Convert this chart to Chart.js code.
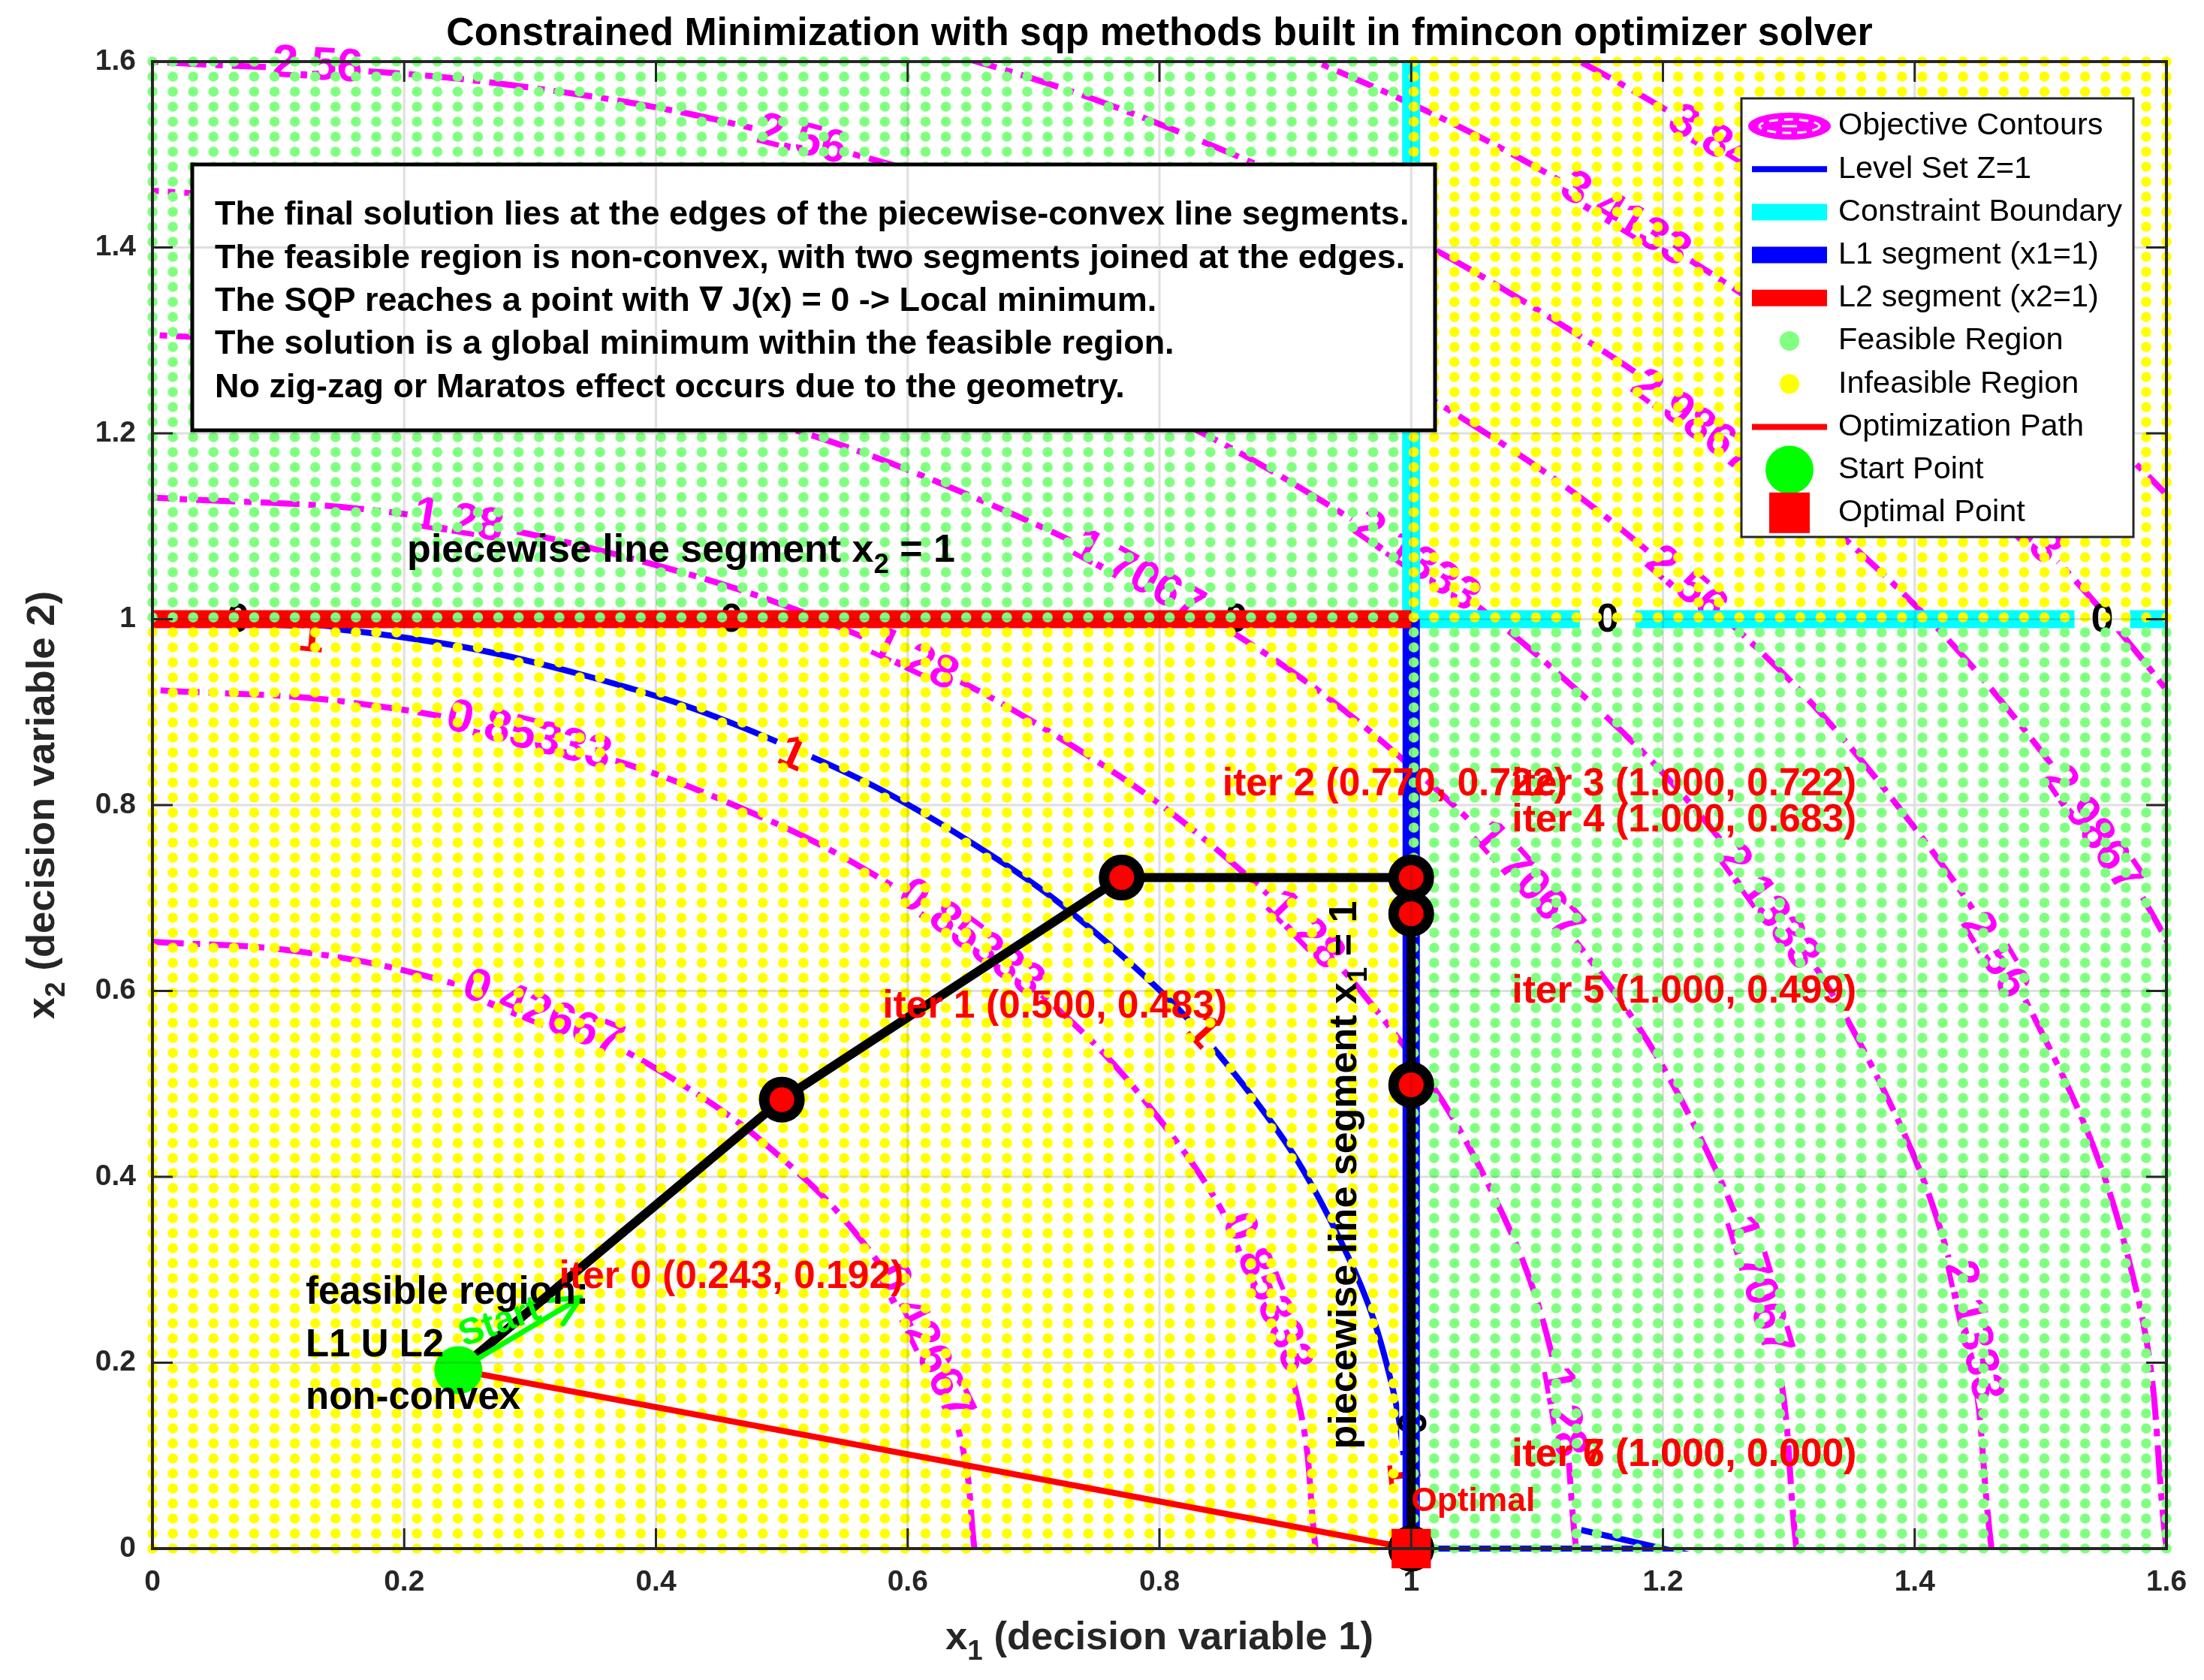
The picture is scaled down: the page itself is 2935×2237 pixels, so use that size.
<!DOCTYPE html>
<html>
<head>
<meta charset="utf-8">
<title>Constrained Minimization with sqp</title>
<script src="https://cdn.jsdelivr.net/npm/chart.js@4.4.1/dist/chart.umd.min.js"></script>
<style>
  html, body { margin: 0; padding: 0; background: #ffffff; overflow: hidden; }
  #chartCanvas { display: block; }
</style>
</head>
<body>
<canvas id="chartCanvas" width="2935" height="2237"></canvas>
<script>
// axis ticks
const tickValues = [0, 0.2, 0.4, 0.6, 0.8, 1, 1.2, 1.4, 1.6];
const tickLabels = ['0', '0.2', '0.4', '0.6', '0.8', '1', '1.2', '1.4', '1.6'];

// objective contours, points (x1, x2)
const contourLevels = [0.42667, 0.85333, 1.28, 1.7067, 2.1333, 2.56, 2.9867, 3.4133, 3.84];
const contour042667 = [[0.653, 0], [0.643, 0.113], [0.614, 0.223], [0.566, 0.327], [0.500, 0.420], [0.420, 0.500], [0.327, 0.566], [0.223, 0.614], [0.113, 0.643], [0, 0.653]];
const contour085333 = [[0.924, 0], [0.910, 0.160], [0.868, 0.316], [0.800, 0.462], [0.708, 0.594], [0.594, 0.708], [0.462, 0.800], [0.316, 0.868], [0.160, 0.910], [0, 0.924]];
const contour128 = [[1.131, 0], [1.114, 0.196], [1.063, 0.387], [0.980, 0.566], [0.867, 0.727], [0.727, 0.867], [0.566, 0.980], [0.387, 1.063], [0.196, 1.114], [0, 1.131]];
const contour17067 = [[1.306, 0], [1.287, 0.227], [1.228, 0.447], [1.131, 0.653], [1.001, 0.840], [0.840, 1.001], [0.653, 1.131], [0.447, 1.228], [0.227, 1.287], [0, 1.306]];
const contour21333 = [[1.461, 0], [1.438, 0.254], [1.373, 0.500], [1.265, 0.730], [1.119, 0.939], [0.939, 1.119], [0.730, 1.265], [0.500, 1.373], [0.254, 1.438], [0, 1.461]];
const contour256 = [[1.600, 0], [1.576, 0.278], [1.504, 0.547], [1.386, 0.800], [1.226, 1.029], [1.029, 1.226], [0.800, 1.386], [0.547, 1.504], [0.278, 1.576], [0, 1.600]];
const contour29867 = [[1.728, 0], [1.702, 0.300], [1.624, 0.591], [1.497, 0.864], [1.324, 1.111], [1.111, 1.324], [0.864, 1.497], [0.591, 1.624], [0.300, 1.702], [0, 1.728]];
const contour34133 = [[1.848, 0], [1.819, 0.321], [1.736, 0.632], [1.600, 0.924], [1.415, 1.188], [1.188, 1.415], [0.924, 1.600], [0.632, 1.736], [0.321, 1.819], [0, 1.848]];
const contour384 = [[1.960, 0], [1.930, 0.340], [1.841, 0.670], [1.697, 0.980], [1.501, 1.260], [1.260, 1.501], [0.980, 1.697], [0.670, 1.841], [0.340, 1.930], [0, 1.960]];
const contourLines = [contour042667, contour085333, contour128, contour17067, contour21333, contour256, contour29867, contour34133, contour384];

// level set Z = 1
const levelSetArc = [[1, 0], [0.985, 0.174], [0.940, 0.342], [0.866, 0.500], [0.766, 0.643], [0.643, 0.766], [0.500, 0.866], [0.342, 0.940], [0.174, 0.985], [0, 1]];
const levelSetFoot = [[1.0, 0], [1.2, 0], [1.135, 0.02]];

// constraint pieces
const l1X = [1, 1];
const l1Y = [0, 1];
const l2X = [0, 1];
const l2Y = [1, 1];
const boundaryX = [1, 1, 1.6];
const boundaryY = [1.6, 1, 1];

// sqp iterates
const iterX = [0.243, 0.500, 0.770, 1.000, 1.000, 1.000, 1.000, 1.000];
const iterY = [0.192, 0.483, 0.722, 0.722, 0.683, 0.499, 0.000, 0.000];
const startX = [0.243];
const startY = [0.192];
const optimalX = [1.0];
const optimalY = [0.0];
const startArrowX = [0.243, 0.340];
const startArrowY = [0.192, 0.270];

// feasibility grid: samples per axis and the four quadrants
const gridCount = 100;
const regionX0 = [0, 1, 0, 1];
const regionX1 = [1, 1.6, 1, 1.6];
const regionY0 = [1, 0, 0, 1];
const regionY1 = [1.6, 1, 1, 1.6];
const regionFeasible = [true, true, false, false];

// inline labels on the curves: [text, x1, x2]
const contourLabels = [
  ['2.56', 0.131, 1.595], ['2.56', 0.516, 1.515], ['3.84', 1.238, 1.516], ['3.4133', 1.17, 1.43],
  ['2.9867', 1.224, 1.212], ['2.1333', 1.004, 1.062], ['2.56', 1.218, 1.037], ['3.4133', 1.47, 1.12],
  ['1.28', 0.243, 1.105], ['1.7067', 0.783, 1.046], ['1.28', 0.605, 0.956], ['0.85333', 0.299, 0.874],
  ['0.85333', 0.65, 0.656], ['1.28', 0.915, 0.665], ['0.42667', 0.31, 0.575], ['0.42667', 0.613, 0.222],
  ['0.85333', 0.885, 0.275], ['1.28', 1.12, 0.147], ['1.7067', 1.275, 0.283], ['2.1333', 1.446, 0.234],
  ['2.1333', 1.283, 0.69], ['1.7067', 1.092, 0.718], ['2.56', 1.463, 0.638], ['2.9867', 1.541, 0.774]
];
const levelLabels = [['1', 0.508, 0.854], ['1', 0.834, 0.555], ['1', 0.126, 0.979], ['1', 0.992, 0.08]];
const boundaryLabels = [['0', 0.068, 1], ['0', 0.46, 1], ['0', 0.861, 1], ['0', 1.156, 1], ['0', 1.549, 1], ['0', 1, 0.135]];

const legendLabels = ['Objective Contours', 'Level Set Z=1', 'Constraint Boundary', 'L1 segment (x1=1)',
  'L2 segment (x2=1)', 'Feasible Region', 'Infeasible Region', 'Optimization Path', 'Start Point', 'Optimal Point'];
const boxLines = [
  'The final solution lies at the edges of the piecewise-convex line segments.',
  'The feasible region is non-convex, with two segments joined at the edges.',
  'The SQP reaches a point with \u2207 J(x) = 0 -> Local minimum.',
  'The solution is a global minimum within the feasible region.',
  'No zig-zag or Maratos effect occurs due to the geometry.'
];
const regionNote = ['feasible region:', 'L1 U L2', 'non-convex'];
const titleText = 'Constrained Minimization with sqp methods built in fmincon optimizer solver';

const FONT = '"Liberation Sans", Arial, "DejaVu Sans", sans-serif';

function setFont(ctx, weight, size) {
  ctx.font = weight + ' ' + size + 'px ' + FONT;
}

function fitSize(ctx, text, weight, width) {
  setFont(ctx, weight, 100);
  return 100 * width / ctx.measureText(text).width;
}

// parts: [[text, isSubscript], ...]
function richWidth(ctx, parts, weight, size) {
  let w = 0;
  parts.forEach(([t, sub]) => {
    setFont(ctx, weight, sub ? size * 0.7 : size);
    w += ctx.measureText(t).width;
  });
  return w;
}

function drawRich(ctx, parts, x, y, weight, size, color) {
  const w = richWidth(ctx, parts, weight, size);
  let cx = x - w / 2;
  ctx.fillStyle = color;
  ctx.textAlign = 'left';
  ctx.textBaseline = 'middle';
  parts.forEach(([t, sub]) => {
    setFont(ctx, weight, sub ? size * 0.7 : size);
    ctx.fillText(t, cx, sub ? y + size * 0.36 : y);
    cx += ctx.measureText(t).width;
  });
}

function pts(xs, ys) {
  return xs.map((x, i) => ({ x: x, y: ys[i] }));
}

function pairs(list) {
  return list.map(p => ({ x: p[0], y: p[1] }));
}

function tangentAngle(chart, x, y) {
  const sx = chart.scales.x, sy = chart.scales.y;
  const kx = sx.getPixelForValue(1) - sx.getPixelForValue(0);
  const ky = sy.getPixelForValue(0) - sy.getPixelForValue(1);
  return Math.atan2(x * ky, y * kx);
}

// label placed in a gap cut out of the curve below it
function gapLabel(ctx, text, px, py, angle, color) {
  const w = ctx.measureText(text).width;
  ctx.save();
  ctx.translate(px, py);
  ctx.rotate(angle);
  ctx.fillStyle = '#ffffff';
  ctx.fillRect(-w / 2 - 8, -15, w + 16, 30);
  ctx.fillStyle = color;
  ctx.fillText(text, 0, 0);
  ctx.restore();
}

function drawContourLabels(chart) {
  const { ctx, scales: { x: sx, y: sy } } = chart;
  ctx.save();
  ctx.textAlign = 'center';
  ctx.textBaseline = 'middle';
  setFont(ctx, 'bold', 62);
  contourLabels.forEach(([t, x, y]) => {
    gapLabel(ctx, t, sx.getPixelForValue(x), sy.getPixelForValue(y), tangentAngle(chart, x, y), '#ff00ff');
  });
  ctx.restore();
}

function drawLevelLabels(chart) {
  const { ctx, scales: { x: sx, y: sy } } = chart;
  ctx.save();
  ctx.textAlign = 'center';
  ctx.textBaseline = 'middle';
  setFont(ctx, 'bold', 62);
  levelLabels.forEach(([t, x, y]) => {
    gapLabel(ctx, t, sx.getPixelForValue(x), sy.getPixelForValue(y), tangentAngle(chart, x, y), '#ff0000');
  });
  ctx.restore();
}

function drawBoundaryLabels(chart) {
  const { ctx, scales: { x: sx, y: sy } } = chart;
  ctx.save();
  ctx.textAlign = 'center';
  ctx.textBaseline = 'middle';
  setFont(ctx, 'bold', 54);
  boundaryLabels.forEach(([t, x, y]) => {
    const w = 74;
    const px = sx.getPixelForValue(x), py = sy.getPixelForValue(y);
    ctx.save();
    ctx.translate(px, py);
    if (x === 1) ctx.rotate(Math.PI / 2);
    ctx.fillStyle = '#ffffff';
    ctx.fillRect(-w / 2, -16, w, 32);
    ctx.fillStyle = '#000000';
    ctx.fillText(t, 0, 2);
    ctx.restore();
  });
  ctx.restore();
}

function dotPattern(ctx, color, dx, dy, left, bottom) {
  const tile = document.createElement('canvas');
  tile.width = Math.round(dx);
  tile.height = Math.round(dy);
  const t = tile.getContext('2d');
  t.fillStyle = color;
  t.beginPath();
  t.arc(tile.width / 2, tile.height / 2, 6.8, 0, Math.PI * 2);
  t.fill();
  const pattern = ctx.createPattern(tile, 'repeat');
  pattern.setTransform(new DOMMatrix([dx / tile.width, 0, 0, dy / tile.height, left - dx / 2, bottom - dy / 2]));
  return pattern;
}

function drawRegions(chart) {
  const { ctx, chartArea: a, scales: { x: sx, y: sy } } = chart;
  const dx = (a.right - a.left) / (gridCount - 1);
  const dy = (a.bottom - a.top) / (gridCount - 1);
  const snapX = v => {
    const p = sx.getPixelForValue(v);
    if (v <= sx.min) return p - dx / 2;
    if (v >= sx.max) return p + dx / 2;
    return a.left + (Math.floor((p - a.left) / dx) + 0.5) * dx;
  };
  const snapY = v => {
    const p = sy.getPixelForValue(v);
    if (v <= sy.min) return p + dy / 2;
    if (v >= sy.max) return p - dy / 2;
    return a.bottom - (Math.floor((a.bottom - p) / dy) + 0.5) * dy;
  };
  const green = dotPattern(ctx, '#80ff80', dx, dy, a.left, a.bottom);
  const yellow = dotPattern(ctx, '#ffff00', dx, dy, a.left, a.bottom);
  ctx.save();
  regionX0.forEach((x0, i) => {
    const L = snapX(x0), R = snapX(regionX1[i]);
    const B = snapY(regionY0[i]), T = snapY(regionY1[i]);
    ctx.fillStyle = regionFeasible[i] ? green : yellow;
    ctx.fillRect(L, T, R - L, B - T);
  });
  ctx.restore();
}

function iterText(i) {
  return 'iter ' + i + ' (' + iterX[i].toFixed(3) + ', ' + iterY[i].toFixed(3) + ')';
}

function drawAnnotations(chart) {
  const { ctx, scales: { x: sx, y: sy } } = chart;
  ctx.save();

  // arrow head of the start marker
  const ax0 = sx.getPixelForValue(startArrowX[0]), ay0 = sy.getPixelForValue(startArrowY[0]);
  const ax1 = sx.getPixelForValue(startArrowX[1]), ay1 = sy.getPixelForValue(startArrowY[1]);
  const ang = Math.atan2(ay1 - ay0, ax1 - ax0);
  ctx.strokeStyle = '#00ff00';
  ctx.lineWidth = 7;
  ctx.lineCap = 'round';
  ctx.beginPath();
  [-0.45, 0.45].forEach(d => {
    ctx.moveTo(ax1, ay1);
    ctx.lineTo(ax1 - 42 * Math.cos(ang + d), ay1 - 42 * Math.sin(ang + d));
  });
  ctx.stroke();

  // "Start"
  const startSize = fitSize(ctx, 'Start', 'bold', 112);
  setFont(ctx, 'bold', startSize);
  ctx.fillStyle = '#00ff00';
  ctx.textAlign = 'center';
  ctx.textBaseline = 'middle';
  ctx.save();
  ctx.translate(sx.getPixelForValue(0.276), sy.getPixelForValue(0.243));
  ctx.rotate(-20 * Math.PI / 180);
  ctx.fillText('Start', 0, 0);
  ctx.restore();

  // iteration labels
  const iterSize = fitSize(ctx, iterText(0), 'bold', 459);
  setFont(ctx, 'bold', iterSize);
  ctx.fillStyle = '#ff0000';
  ctx.textAlign = 'left';
  ctx.textBaseline = 'middle';
  iterX.forEach((x, i) => {
    ctx.fillText(iterText(i), sx.getPixelForValue(x + 0.08), sy.getPixelForValue(iterY[i] + 0.1));
  });

  // optimal label
  const optSize = fitSize(ctx, 'Optimal', 'bold', 165);
  setFont(ctx, 'bold', optSize);
  ctx.fillText('Optimal', sx.getPixelForValue(optimalX[0]), sy.getPixelForValue(optimalY[0] + 0.05));

  // feasible region note
  const noteSize = fitSize(ctx, regionNote[0], 'bold', 377);
  setFont(ctx, 'bold', noteSize);
  ctx.fillStyle = '#000000';
  const noteX = sx.getPixelForValue(0.1217);
  const noteY = sy.getPixelForValue(0.2747);
  regionNote.forEach((t, i) => ctx.fillText(t, noteX, noteY + i * 70));

  // segment captions
  const capH = [['piecewise line segment x', false], ['2', true], [' = 1', false]];
  const capV = [['piecewise line segment x', false], ['1', true], [' = 1', false]];
  const capSize = 100 * 730 / richWidth(ctx, capH, 'bold', 100);
  drawRich(ctx, capH, sx.getPixelForValue(0.42), sy.getPixelForValue(1.073), 'bold', capSize, '#000000');
  ctx.save();
  ctx.translate(sx.getPixelForValue(0.9475), sy.getPixelForValue(0.402));
  ctx.rotate(-Math.PI / 2);
  drawRich(ctx, capV, 0, 0, 'bold', capSize, '#000000');
  ctx.restore();

  ctx.restore();
}

function drawTextBox(chart) {
  const ctx = chart.ctx;
  ctx.save();
  ctx.fillStyle = '#ffffff';
  ctx.fillRect(256, 219, 1655, 354);
  ctx.strokeStyle = '#000000';
  ctx.lineWidth = 5;
  ctx.strokeRect(256, 219, 1655, 354);
  const size = fitSize(ctx, boxLines[0], 'bold', 1591);
  setFont(ctx, 'bold', size);
  ctx.fillStyle = '#000000';
  ctx.textAlign = 'left';
  ctx.textBaseline = 'middle';
  boxLines.forEach((t, i) => ctx.fillText(t, 286, 287 + i * 57.3));
  ctx.restore();
}

function drawGridAndAxes(chart) {
  const { ctx, chartArea: a, scales: { x: sx, y: sy } } = chart;
  ctx.save();
  ctx.strokeStyle = 'rgba(38, 38, 38, 0.15)';
  ctx.lineWidth = 3;
  ctx.beginPath();
  tickValues.forEach(v => {
    const px = sx.getPixelForValue(v), py = sy.getPixelForValue(v);
    ctx.moveTo(px, a.top); ctx.lineTo(px, a.bottom);
    ctx.moveTo(a.left, py); ctx.lineTo(a.right, py);
  });
  ctx.stroke();

  ctx.strokeStyle = '#262626';
  ctx.lineWidth = 3;
  ctx.beginPath();
  tickValues.forEach(v => {
    const px = sx.getPixelForValue(v), py = sy.getPixelForValue(v);
    ctx.moveTo(px, a.bottom); ctx.lineTo(px, a.bottom - 27);
    ctx.moveTo(px, a.top); ctx.lineTo(px, a.top + 27);
    ctx.moveTo(a.left, py); ctx.lineTo(a.left + 27, py);
    ctx.moveTo(a.right, py); ctx.lineTo(a.right - 27, py);
  });
  ctx.stroke();
  ctx.lineWidth = 4;
  ctx.strokeRect(a.left, a.top, a.right - a.left, a.bottom - a.top);
  ctx.restore();
}

function drawTitles(chart) {
  const { ctx, chartArea: a } = chart;
  const cx = (a.left + a.right) / 2;
  ctx.save();
  const tSize = fitSize(ctx, titleText, 'bold', 1900);
  setFont(ctx, 'bold', tSize);
  ctx.fillStyle = '#000000';
  ctx.textAlign = 'center';
  ctx.textBaseline = 'middle';
  ctx.fillText(titleText, cx, 46);

  const xl = [['x', false], ['1', true], [' (decision variable 1)', false]];
  const yl = [['x', false], ['2', true], [' (decision variable 2)', false]];
  const lSize = 100 * 570 / richWidth(ctx, xl, 'bold', 100);
  drawRich(ctx, xl, cx, 2181, 'bold', lSize, '#262626');
  ctx.save();
  ctx.translate(57, (a.top + a.bottom) / 2);
  ctx.rotate(-Math.PI / 2);
  drawRich(ctx, yl, 0, 0, 'bold', lSize, '#262626');
  ctx.restore();
  ctx.restore();
}

function drawLegendIcon(ctx, i, x, y) {
  const line = (color, w) => {
    ctx.strokeStyle = color;
    ctx.lineWidth = w;
    ctx.lineCap = 'butt';
    ctx.beginPath();
    ctx.moveTo(x - 50, y);
    ctx.lineTo(x + 50, y);
    ctx.stroke();
  };
  const dot = (color, r) => {
    ctx.fillStyle = color;
    ctx.beginPath();
    ctx.arc(x, y, r, 0, Math.PI * 2);
    ctx.fill();
  };
  if (i === 0) {
    ctx.fillStyle = '#ff00ff';
    ctx.beginPath();
    ctx.ellipse(x, y, 55, 18, 0, 0, Math.PI * 2);
    ctx.fill();
    ctx.strokeStyle = '#ffffff';
    ctx.lineWidth = 3;
    ctx.setLineDash([12, 8]);
    ctx.beginPath();
    ctx.ellipse(x, y, 40, 9, 0, 0, Math.PI * 2);
    ctx.stroke();
    ctx.setLineDash([]);
    ctx.beginPath();
    ctx.moveTo(x - 10, y);
    ctx.lineTo(x + 10, y);
    ctx.stroke();
  } else if (i === 1) line('#0000ff', 8);
  else if (i === 2) line('#00ffff', 22);
  else if (i === 3) line('#0000ff', 22);
  else if (i === 4) line('#ff0000', 22);
  else if (i === 5) dot('#80ff80', 13);
  else if (i === 6) dot('#ffff00', 13);
  else if (i === 7) line('#ff0000', 8);
  else if (i === 8) dot('#00ff00', 32);
  else if (i === 9) {
    ctx.fillStyle = '#ff0000';
    ctx.fillRect(x - 27, y - 27, 54, 54);
  }
}

function drawLegend(chart) {
  const ctx = chart.ctx;
  ctx.save();
  ctx.fillStyle = '#ffffff';
  ctx.fillRect(2319, 131, 522, 584);
  ctx.strokeStyle = '#262626';
  ctx.lineWidth = 3;
  ctx.strokeRect(2319, 131, 522, 584);
  const size = fitSize(ctx, legendLabels[2], 'normal', 378);
  legendLabels.forEach((label, i) => {
    const y = 168 + i * 57.2;
    drawLegendIcon(ctx, i, 2383, y);
    setFont(ctx, 'normal', size);
    ctx.fillStyle = '#000000';
    ctx.textAlign = 'left';
    ctx.textBaseline = 'middle';
    ctx.fillText(label, 2448, y);
  });
  ctx.restore();
}

const overlayPlugin = {
  id: 'overlay',
  beforeDatasetDraw(chart, args) {
    const tag = chart.data.datasets[args.index].tag;
    if (tag === 'levelset') drawContourLabels(chart);
    if (tag === 'cyan') drawLevelLabels(chart);
    if (tag === 'l1') drawBoundaryLabels(chart);
    if (tag === 'optpath') drawRegions(chart);
  },
  afterDatasetsDraw(chart) {
    drawAnnotations(chart);
    drawTextBox(chart);
    drawGridAndAxes(chart);
  },
  afterDraw(chart) {
    drawTitles(chart);
    drawLegend(chart);
  }
};

const datasets = [];
contourLines.forEach((c, i) => datasets.push({
  tag: 'contour', label: 'Objective Contours ' + contourLevels[i], data: pairs(c),
  borderColor: '#ff00ff', borderWidth: 8, borderDash: [52, 12, 10, 12], tension: 0.4,
  pointRadius: 0, showLine: true, order: 100
}));
datasets.push({ tag: 'levelset', label: 'Level Set Z=1', data: pairs(levelSetArc), borderColor: '#0000ff',
  borderWidth: 8, tension: 0.4, pointRadius: 0, showLine: true, order: 90 });
datasets.push({ tag: 'levelfoot', label: 'Level Set Z=1', data: pairs(levelSetFoot), borderColor: '#0000ff',
  borderWidth: 8, tension: 0, pointRadius: 0, showLine: true, order: 89, clip: false });
datasets.push({ tag: 'cyan', label: 'Constraint Boundary', data: pts(boundaryX, boundaryY), borderColor: '#00ffff',
  borderWidth: 24, pointRadius: 0, showLine: true, order: 85, borderJoinStyle: 'miter', borderCapStyle: 'butt' });
datasets.push({ tag: 'l1', label: 'L1 segment (x1=1)', data: pts(l1X, l1Y), borderColor: '#0000ff',
  borderWidth: 23, pointRadius: 0, showLine: true, order: 80 });
datasets.push({ tag: 'l2', label: 'L2 segment (x2=1)', data: pts(l2X, l2Y), borderColor: '#ff0000',
  borderWidth: 24, pointRadius: 0, showLine: true, order: 79 });
datasets.push({ tag: 'optpath', label: 'Optimization Path', data: pts([startX[0], optimalX[0]], [startY[0], optimalY[0]]),
  borderColor: '#ff0000', borderWidth: 8, pointRadius: 0, showLine: true, order: 50 });
datasets.push({ tag: 'iters', label: 'SQP iterates', data: pts(iterX, iterY), borderColor: '#000000', borderWidth: 12,
  borderJoinStyle: 'round', pointRadius: 23.5, pointBorderWidth: 14, pointBackgroundColor: '#ff0000',
  pointBorderColor: '#000000', showLine: true, order: 40, clip: false });
datasets.push({ tag: 'arrow', label: 'Start arrow', data: pts(startArrowX, startArrowY), borderColor: '#00ff00',
  borderWidth: 7, pointRadius: 0, showLine: true, order: 35 });
datasets.push({ tag: 'start', label: 'Start Point', data: pts(startX, startY), showLine: false, pointRadius: 32,
  pointBackgroundColor: '#00ff00', pointBorderWidth: 0, order: 30, clip: false });
datasets.push({ tag: 'optimal', label: 'Optimal Point', data: pts(optimalX, optimalY), showLine: false,
  pointStyle: 'rect', pointRadius: 37, pointBackgroundColor: '#ff0000', pointBorderWidth: 0, order: 20, clip: false });

function axisOptions(isX) {
  return {
    type: 'linear',
    min: 0,
    max: 1.6,
    afterBuildTicks: s => { s.ticks = tickValues.map(v => ({ value: v })); },
    ticks: {
      callback: (v, i) => tickLabels[i],
      font: { family: FONT, weight: 'bold', size: 39 },
      color: '#262626',
      padding: isX ? 22 : 22,
      autoSkip: false,
      maxRotation: 0,
      minRotation: 0
    },
    grid: { display: false, drawTicks: false },
    border: { display: false },
    afterFit: s => {
      if (isX) { s.height = 175; s.paddingLeft = 0; s.paddingRight = 0; }
      else { s.width = 203; s.paddingTop = 0; s.paddingBottom = 0; }
    }
  };
}

new Chart(document.getElementById('chartCanvas'), {
  type: 'scatter',
  data: { datasets: datasets },
  options: {
    responsive: false,
    devicePixelRatio: 1,
    animation: false,
    events: [],
    layout: { padding: { top: 82, right: 50, bottom: 0, left: 0 } },
    elements: { line: { capBezierPoints: false } },
    plugins: { legend: { display: false }, tooltip: { enabled: false }, title: { display: false } },
    scales: { x: axisOptions(true), y: axisOptions(false) }
  },
  plugins: [overlayPlugin]
});
</script>
</body>
</html>
